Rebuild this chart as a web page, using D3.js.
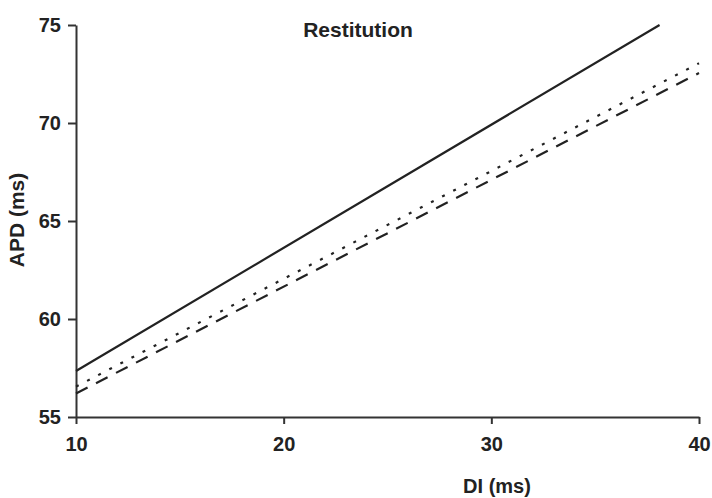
<!DOCTYPE html>
<html>
<head>
<meta charset="utf-8">
<script src="https://cdn.jsdelivr.net/npm/d3@7"></script>
<style>
  html, body { margin: 0; padding: 0; background: #fff; }
  svg { display: block; }
  text { font-family: "Liberation Sans", Arial, sans-serif; font-weight: bold; fill: #222; }
</style>
</head>
<body>
<svg id="chart" width="712" height="498"></svg>
<script>
// Restitution curves: APD as a function of DI
const xTicks = [10, 20, 30, 40];
const yTicks = [55, 60, 65, 70, 75];

const solidDI = [10, 38.1];
const solidAPD = [57.35, 75];
const dottedDI = [10, 40];
const dottedAPD = [56.55, 73.05];
const dashedDI = [10, 40];
const dashedAPD = [56.2, 72.55];

const series = [
  { di: solidDI, apd: solidAPD, dash: null },
  { di: dottedDI, apd: dottedAPD, dash: "3,9.5" },
  { di: dashedDI, apd: dashedAPD, dash: "13,9.5" }
];

const svg = d3.select("#chart");
const x = d3.scaleLinear().domain([10, 40]).range([76, 699]);
const y = d3.scaleLinear().domain([55, 75]).range([417, 25]);

// Axes
const xAxis = svg.append("g")
  .attr("transform", `translate(0,${y(55)})`)
  .call(d3.axisBottom(x).tickValues(xTicks).tickSize(7).tickPadding(13).tickSizeOuter(0));
const yAxis = svg.append("g")
  .attr("transform", `translate(${x(10)},0)`)
  .call(d3.axisLeft(y).tickValues(yTicks).tickSize(8).tickPadding(7).tickSizeOuter(0));

[xAxis, yAxis].forEach(g => {
  g.select(".domain").attr("stroke", "#333").attr("stroke-width", 2);
  g.selectAll(".tick line").attr("stroke", "#333").attr("stroke-width", 2);
  g.selectAll(".tick text")
    .attr("font-family", "Liberation Sans, Arial, sans-serif")
    .attr("font-weight", "bold")
    .attr("font-size", 20)
    .attr("fill", "#222");
});

// Lines
const line = d3.line().x(d => x(d[0])).y(d => y(d[1]));
svg.append("g").selectAll("path")
  .data(series)
  .join("path")
  .attr("d", s => line(s.di.map((d, i) => [d, s.apd[i]])))
  .attr("fill", "none")
  .attr("stroke", "#222")
  .attr("stroke-width", 2.2)
  .attr("stroke-dasharray", s => s.dash);

// Title and axis labels
svg.append("text")
  .attr("x", 358).attr("y", 37)
  .attr("text-anchor", "middle")
  .attr("font-size", 21)
  .text("Restitution");

svg.append("text")
  .attr("x", 497).attr("y", 493)
  .attr("text-anchor", "middle")
  .attr("font-size", 20)
  .text("DI (ms)");

svg.append("text")
  .attr("transform", "translate(24,220) rotate(-90)")
  .attr("text-anchor", "middle")
  .attr("font-size", 21)
  .text("APD (ms)");
</script>
</body>
</html>
